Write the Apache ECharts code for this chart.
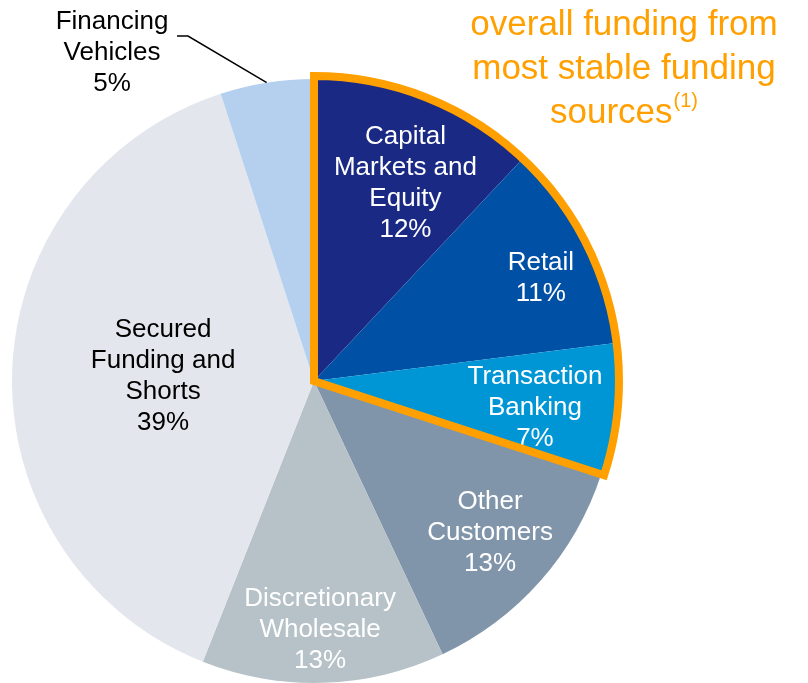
<!DOCTYPE html>
<html>
<head>
<meta charset="utf-8">
<script src="https://cdn.jsdelivr.net/npm/echarts@6/dist/echarts.min.js"></script>
<style>
	html, body { margin: 0; padding: 0; background: #fff; }
	#main { width: 808px; height: 683px; }
</style>
</head>
<body>
<div id="main"></div>
<script>
	// data
	var categories = ['Capital\nMarkets and\nEquity', 'Retail', 'Transaction\nBanking', 'Other\nCustomers',
		'Discretionary\nWholesale', 'Secured\nFunding and\nShorts', 'Financing\nVehicles'];
	var shares = [12, 11, 7, 13, 13, 39, 5];
	var stableCount = 3; // first three slices are the most stable sources
	var titleLines = ['overall funding from', 'most stable funding', 'sources'];
	var footnote = '(1)';

	// styles
	var sliceColors = ['#1a2a84', '#0051a5', '#0095d5', '#8195aa', '#b7c2c8', '#e3e7ed', '#b4d0ee'];
	var labelColors = ['#fff', '#fff', '#fff', '#fff', '#fff', '#000', '#000'];
	var labelRadius = [0.722, 0.825, 0.737, 0.77, 0.825, 0.5, 0];
	var labelTurn = [3.2, 2.6, 1.6, -0.6, 0.4, 0, 0]; // degrees, clockwise
	var orange = '#ffa000';
	var font = '"Liberation Sans", Arial, sans-serif';
	var cx = 314, cy = 381, R = 302;

	var stableTotal = 0, restTotal = 0;
	shares.forEach(function(v, i) {
		if (i < stableCount) stableTotal += v; else restTotal += v;
	});

	var pieData = categories.map(function(name, i) {
		var item = {
			name: name,
			value: shares[i],
			itemStyle: { color: sliceColors[i] },
			label: { color: labelColors[i] }
		};
		if (i === categories.length - 1) {
			item.label.position = 'outside';
			item.labelLine = { show: true, lineStyle: { color: '#000', width: 1.5 } };
		}
		return item;
	});

	var chart = echarts.init(document.getElementById('main'));
	chart.setOption({
		animation: false,
		graphic: [{
			type: 'text',
			x: 624,
			y: 3,
			style: {
				text: titleLines.join('\n') + '{sup|' + footnote + '}',
				align: 'center',
				verticalAlign: 'top',
				fill: orange,
				fontSize: 35,
				fontFamily: font,
				lineHeight: 44,
				rich: {
					sup: { fontSize: 20, fill: orange, fontFamily: font, verticalAlign: 'top', lineHeight: 44, padding: [0, 0, 16, 1] }
				}
			}
		}],
		series: [{
			type: 'pie',
			center: [cx, cy],
			radius: [0, R],
			startAngle: 90,
			clockwise: true,
			silent: true,
			itemStyle: { borderWidth: 0 },
			label: {
				show: true,
				position: 'inside',
				formatter: function(p) { return p.name + '\n' + p.value + '%'; },
				fontSize: 26,
				lineHeight: 31,
				fontFamily: font,
				align: 'center'
			},
			labelLine: { show: false },
			labelLayout: function(p) {
				var i = p.dataIndex;
				if (i === categories.length - 1) {
					var e = p.labelLinePoints ? p.labelLinePoints[0] : [272, 81];
					return {
						x: 112, y: 53, align: 'center', verticalAlign: 'middle',
						labelLinePoints: [e, [188, 36], [177, 36]]
					};
				}
				var r = p.labelRect;
				var dx = r.x + r.width / 2 - cx, dy = r.y + r.height / 2 - cy;
				var a = Math.atan2(dx, -dy) + labelTurn[i] * Math.PI / 180;
				var f = labelRadius[i] * R;
				return { x: cx + Math.sin(a) * f, y: cy - Math.cos(a) * f, align: 'center', verticalAlign: 'middle' };
			},
			data: pieData
		}, {
			// orange outline round the stable part
			type: 'pie',
			center: [cx, cy],
			radius: [0, R + 3],
			startAngle: 90,
			clockwise: true,
			silent: true,
			z: 5,
			label: { show: false },
			labelLine: { show: false },
			data: [
				{ value: stableTotal, itemStyle: { color: 'rgba(0,0,0,0)', borderColor: orange, borderWidth: 8, borderJoin: 'miter' } },
				{ value: restTotal, itemStyle: { color: 'rgba(0,0,0,0)', borderWidth: 0 } }
			]
		}]
	});
</script>
</body>
</html>
